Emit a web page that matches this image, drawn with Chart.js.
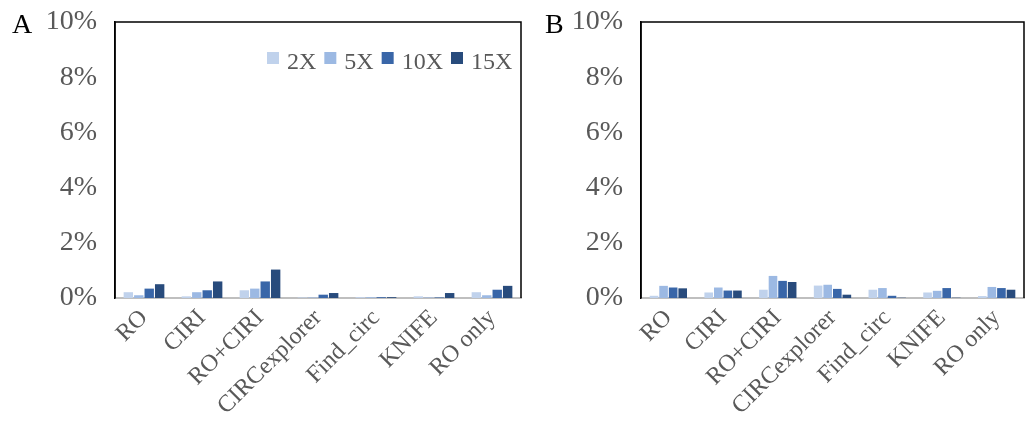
<!DOCTYPE html>
<html>
<head>
  <title>Bar charts A and B</title>
  <script src="https://cdn.jsdelivr.net/npm/chart.js"></script>
  <style>
    body { margin: 0; background: #fff; }
    .wrap { position: relative; width: 1028px; height: 435px; }
    .panel { position: absolute; top: 0; height: 435px; }
    .letter { position: absolute; top: 8px; font-family: 'Liberation Serif', serif; font-size: 28px; color: #000; }
  </style>
</head>
<body>
  <div class="wrap">
    <div class="panel" style="left:0; width:525px;"><canvas id="chartA"></canvas></div>
    <div class="panel" style="left:525px; width:503px;"><canvas id="chartB"></canvas></div>
    <div class="letter" style="left:12px;">A</div>
    <div class="letter" style="left:545px;">B</div>
  </div>

  <script>
    const categories = ['RO', 'CIRI', 'RO+CIRI', 'CIRCexplorer', 'Find_circ', 'KNIFE', 'RO only'];
    const yTicks = [0, 2, 4, 6, 8, 10];

    // panel A: sequencing depth
    const depthLabels = ['2X', '5X', '10X', '15X'];
    const depth2X  = [0.21, 0.06, 0.28, 0.02, 0.03, 0.06, 0.21];
    const depth5X  = [0.10, 0.21, 0.34, 0.02, 0.03, 0.02, 0.10];
    const depth10X = [0.34, 0.28, 0.60, 0.12, 0.03, 0.02, 0.30];
    const depth15X = [0.50, 0.60, 1.03, 0.18, 0.03, 0.18, 0.44];

    // panel B: read length
    const peLabels = ['PE75', 'PE100', 'PE150', 'PE200'];
    const pe75  = [0.08, 0.20, 0.30, 0.45, 0.30, 0.20, 0.07];
    const pe100 = [0.44, 0.38, 0.80, 0.48, 0.36, 0.26, 0.40];
    const pe150 = [0.38, 0.27, 0.62, 0.33, 0.08, 0.36, 0.36];
    const pe200 = [0.35, 0.27, 0.58, 0.12, 0.01, 0.01, 0.30];

    const colors = ['#c0d2ec', '#9cb9e3', '#3966a8', '#284b7c'];
    const tickColor = '#595959';
    const serif = "'Liberation Serif', 'Times New Roman', serif";

    // plot frame (left, top, right) plus legend inside the plot
    const framePlugin = {
      id: 'frame',
      afterDraw(chart, args, opts) {
        const a = chart.chartArea;
        const ctx = chart.ctx;
        ctx.save();
        ctx.strokeStyle = '#000';
        ctx.lineWidth = 1.5;
        ctx.beginPath();
        ctx.moveTo(a.left, a.bottom);
        ctx.lineTo(a.left, a.top);
        ctx.lineTo(a.right, a.top);
        ctx.lineTo(a.right, a.bottom);
        ctx.stroke();

        ctx.font = '24px ' + serif;
        ctx.textBaseline = 'alphabetic';
        let x = opts.legendX;
        chart.data.datasets.forEach(ds => {
          ctx.fillStyle = ds.backgroundColor;
          ctx.fillRect(x, 52, 12, 12);
          x += 20;
          ctx.fillStyle = tickColor;
          ctx.fillText(ds.label, x, 69);
          x += ctx.measureText(ds.label).width + opts.legendGap;
        });
        ctx.restore();
      }
    };

    function makeChart(id, labels, series, yWidth, legendX, legendGap, catPct) {
      return new Chart(document.getElementById(id), {
        type: 'bar',
        data: {
          labels: categories,
          datasets: series.map((d, i) => ({
            label: labels[i],
            data: d,
            backgroundColor: colors[i],
            borderWidth: 0,
            barPercentage: 0.9,
            categoryPercentage: catPct
          }))
        },
        options: {
          responsive: true,
          maintainAspectRatio: false,
          animation: false,
          layout: { padding: { top: 22, right: 4, left: 0, bottom: 0 } },
          plugins: {
            legend: { display: false },
            tooltip: { enabled: false },
            frame: { legendX: legendX, legendGap: legendGap }
          },
          scales: {
            x: {
              grid: { display: false, drawTicks: false },
              border: { color: '#bfbfbf', width: 2 },
              ticks: {
                color: tickColor,
                font: { family: serif, size: 24 },
                maxRotation: 45,
                minRotation: 45,
                padding: 6
              },
              afterFit(axis) { axis.height = 137; }
            },
            y: {
              min: 0,
              max: 10,
              afterBuildTicks(axis) { axis.ticks = yTicks.map(v => ({ value: v })); },
              grid: { display: false, drawTicks: false },
              border: { color: '#000', width: 1.5 },
              ticks: {
                color: tickColor,
                font: { family: serif, size: 28 },
                padding: 18,
                callback: v => v + '%'
              },
              afterFit(axis) {
                axis.width = yWidth;
                axis.paddingTop = 0;
                axis.paddingBottom = 0;
              }
            }
          }
        },
        plugins: [framePlugin]
      });
    }

    makeChart('chartA', depthLabels, [depth2X, depth5X, depth10X, depth15X], 115, 267, 8, 0.72);
    makeChart('chartB', peLabels, [pe75, pe100, pe150, pe200], 116, 650, 17, 0.7);
  </script>
</body>
</html>
